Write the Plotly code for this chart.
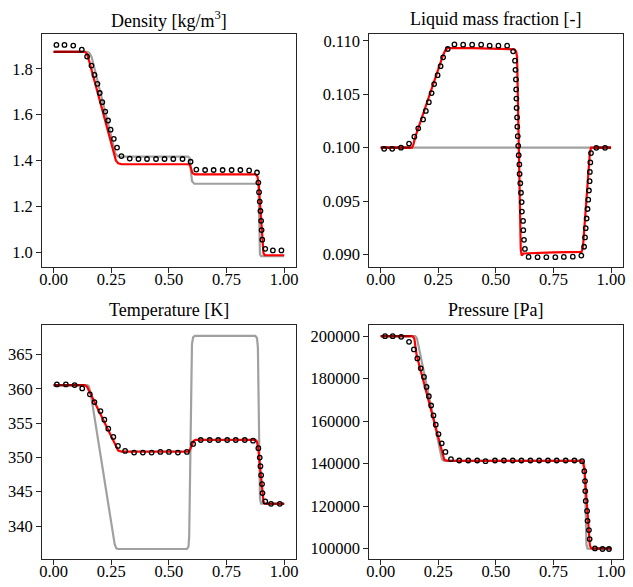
import plotly.graph_objects as go

# ---------------- data ----------------
titles = ["Density [kg/m<sup>3</sup>]", "Liquid mass fraction [-]", "Temperature [K]", "Pressure [Pa]"]
x_ticks = [0.0, 0.25, 0.5, 0.75, 1.0]

# Density
gray_rho_x = [0.0, 0.145, 0.155, 0.165, 0.268, 0.278, 0.29, 0.583, 0.59, 0.6, 0.61, 0.884, 0.889, 0.895, 0.9, 1.0]
gray_rho_y = [1.874, 1.874, 1.868, 1.85, 1.43, 1.418, 1.416, 1.416, 1.41, 1.31, 1.298, 1.298, 1.29, 0.99, 0.982, 0.982]
red_rho_x = [0.0, 0.135, 0.145, 0.155, 0.27, 0.28, 0.295, 0.586, 0.592, 0.602, 0.612, 0.876, 0.884, 0.89, 0.91, 0.916, 1.0]
red_rho_y = [1.874, 1.874, 1.865, 1.83, 1.40, 1.387, 1.383, 1.383, 1.378, 1.345, 1.339, 1.339, 1.33, 1.29, 0.995, 0.986, 0.986]
dot_rho_x = [0.012, 0.047, 0.085, 0.122, 0.145, 0.164, 0.177, 0.190, 0.200, 0.211, 0.224, 0.236, 0.247, 0.261,
             0.275, 0.294, 0.330, 0.368, 0.405, 0.444, 0.481, 0.519, 0.559, 0.594, 0.619, 0.657, 0.694, 0.733,
             0.772, 0.810, 0.848, 0.882, 0.888, 0.891, 0.894, 0.897, 0.900, 0.902, 0.905, 0.918, 0.951, 0.988]
dot_rho_y = [1.904, 1.904, 1.901, 1.883, 1.853, 1.814, 1.773, 1.734, 1.694, 1.654, 1.613, 1.574, 1.534, 1.494,
             1.456, 1.419, 1.408, 1.406, 1.406, 1.406, 1.406, 1.406, 1.406, 1.394, 1.360, 1.358, 1.358, 1.358,
             1.358, 1.358, 1.356, 1.347, 1.303, 1.261, 1.220, 1.179, 1.136, 1.096, 1.054, 1.014, 1.007, 1.007]
dark_rho_x = [0.0, 0.13]
dark_rho_y = [1.874, 1.874]

# Liquid mass fraction
gray_Y_x = [0.0, 1.0]
gray_Y_y = [0.1, 0.1]
red_Y_x = [0.0, 0.136, 0.142, 0.15, 0.27, 0.28, 0.29, 0.40, 0.58, 0.588, 0.592, 0.608, 0.612, 0.62, 0.75,
           0.872, 0.878, 0.908, 0.913, 1.0]
red_Y_y = [0.1, 0.1, 0.1003, 0.1010, 0.1086, 0.1091, 0.10932, 0.10932, 0.1092, 0.1090, 0.1085, 0.0905,
           0.0899, 0.0901, 0.0902, 0.09025, 0.0907, 0.0995, 0.1, 0.1]
dot_Y_x = [0.015, 0.050, 0.088, 0.123, 0.146, 0.163, 0.184, 0.196, 0.209, 0.221, 0.232, 0.247, 0.260, 0.271,
           0.291, 0.320, 0.358, 0.397, 0.436, 0.473, 0.511, 0.549, 0.575, 0.583, 0.585, 0.587, 0.588, 0.589,
           0.590, 0.592, 0.593, 0.595, 0.597, 0.599, 0.602, 0.603, 0.606, 0.609, 0.612, 0.613, 0.618, 0.619,
           0.622, 0.626, 0.642, 0.681, 0.719, 0.758, 0.795, 0.834, 0.871, 0.883, 0.887, 0.890, 0.894, 0.898,
           0.901, 0.904, 0.907, 0.908, 0.910, 0.913, 0.936, 0.974]
dot_Y_y = [0.09989, 0.09989, 0.1000, 0.10038, 0.10103, 0.10181, 0.10264, 0.10344, 0.10425, 0.10511, 0.10595,
           0.10678, 0.10762, 0.10845, 0.10923, 0.10966, 0.10963, 0.10963, 0.10963, 0.10954, 0.10954, 0.10954,
           0.10901, 0.10814, 0.10728, 0.10638, 0.10545, 0.10459, 0.10372, 0.10283, 0.10196, 0.10107, 0.10017,
           0.09930, 0.09843, 0.09754, 0.09667, 0.09578, 0.09491, 0.09402, 0.09314, 0.09228, 0.09138, 0.09052,
           0.08978, 0.08975, 0.08975, 0.08975, 0.08978, 0.0898, 0.0899, 0.09073, 0.09160, 0.09247, 0.09337,
           0.09426, 0.09513, 0.09599, 0.09686, 0.09773, 0.09862, 0.09949, 0.09998, 0.09998]
dark_Y_x = [0.0, 0.13, None, 0.93, 1.0]
dark_Y_y = [0.1, 0.1, None, 0.1, 0.1]

# Temperature
gray_T_x = [0.0, 0.145, 0.152, 0.16, 0.265, 0.272, 0.28, 0.578, 0.585, 0.588, 0.6, 0.605, 0.612, 0.875, 0.882,
            0.886, 0.895, 0.9, 1.0]
gray_T_y = [360.55, 360.55, 360.4, 359.5, 337.3, 336.75, 336.65, 336.65, 337.0, 338.5, 366.5, 367.5, 367.7,
            367.7, 367.4, 366.0, 344.0, 343.25, 343.25]
red_T_x = [0.0, 0.135, 0.145, 0.155, 0.27, 0.28, 0.295, 0.585, 0.59, 0.598, 0.607, 0.615, 0.875, 0.882, 0.888,
           0.91, 0.916, 1.0]
red_T_y = [360.55, 360.55, 360.3, 359.6, 351.5, 351.0, 350.85, 350.85, 351.0, 351.8, 352.4, 352.55, 352.55,
           352.3, 351.2, 343.6, 343.25, 343.25]
dot_T_x = [0.014, 0.053, 0.091, 0.124, 0.157, 0.177, 0.203, 0.220, 0.237, 0.259, 0.279, 0.310, 0.349, 0.387,
           0.425, 0.463, 0.500, 0.539, 0.578, 0.605, 0.638, 0.677, 0.714, 0.753, 0.790, 0.829, 0.865, 0.888,
           0.894, 0.897, 0.900, 0.904, 0.906, 0.918, 0.943, 0.981]
dot_T_y = [360.64, 360.64, 360.54, 360.06, 359.19, 358.07, 356.76, 355.50, 354.19, 352.98, 351.67, 350.94,
           350.70, 350.70, 350.70, 350.80, 350.80, 350.70, 350.80, 351.96, 352.54, 352.54, 352.54, 352.54,
           352.54, 352.54, 352.44, 351.34, 349.97, 348.72, 347.41, 346.11, 344.80, 343.58, 343.24, 343.24]
dark_T_x = [0.0, 0.13, None, 0.92, 1.0]
dark_T_y = [360.55, 360.55, None, 343.25, 343.25]

# Pressure
gray_P_x = [0.0, 0.15, 0.157, 0.165, 0.258, 0.266, 0.276, 0.876, 0.882, 0.886, 0.893, 0.898, 1.0]
gray_P_y = [200000, 200000, 199000, 195000, 146000, 142000, 141300, 141300, 140500, 137000, 102000, 99900, 99900]
red_P_x = [0.0, 0.138, 0.146, 0.156, 0.268, 0.276, 0.29, 0.872, 0.878, 0.884, 0.908, 0.914, 1.0]
red_P_y = [200000, 200000, 198800, 191000, 145000, 141800, 141300, 141300, 140500, 137500, 101500, 100000, 100000]
dot_P_x = [0.019, 0.052, 0.089, 0.123, 0.144, 0.159, 0.174, 0.188, 0.199, 0.209, 0.219, 0.229, 0.239, 0.251,
           0.265, 0.281, 0.305, 0.341, 0.380, 0.419, 0.455, 0.496, 0.535, 0.573, 0.611, 0.650, 0.688, 0.726,
           0.764, 0.803, 0.841, 0.874, 0.884, 0.887, 0.888, 0.890, 0.896, 0.898, 0.904, 0.907, 0.930, 0.963, 0.991]
dot_P_y = [200000, 200000, 199670, 197330, 193740, 189510, 184830, 180790, 176110, 171710, 167350, 162670,
           158310, 153910, 149550, 145480, 142060, 141450, 141450, 141450, 141120, 141450, 141450, 141450,
           141450, 141450, 141450, 141450, 141450, 141450, 141450, 141120, 136440, 131760, 127070, 122390,
           117700, 113020, 108660, 104440, 100040, 99770, 99770]
dark_P_x = [0.0, 0.13, None, 0.92, 1.0]
dark_P_y = [200000, 200000, None, 100000, 100000]

y_ticks = [
    [1.0, 1.2, 1.4, 1.6, 1.8],
    [0.090, 0.095, 0.100, 0.105, 0.110],
    [340, 345, 350, 355, 360, 365],
    [100000, 120000, 140000, 160000, 180000, 200000],
]
y_fmt = [".1f", ".3f", "d", "d"]
y_ranges = [[0.934, 1.951], [0.08882, 0.11062], [335.13, 369.35], [94850, 205420]]

panels = [
    (gray_rho_x, gray_rho_y, red_rho_x, red_rho_y, dot_rho_x, dot_rho_y, dark_rho_x, dark_rho_y),
    (gray_Y_x, gray_Y_y, red_Y_x, red_Y_y, dot_Y_x, dot_Y_y, dark_Y_x, dark_Y_y),
    (gray_T_x, gray_T_y, red_T_x, red_T_y, dot_T_x, dot_T_y, dark_T_x, dark_T_y),
    (gray_P_x, gray_P_y, red_P_x, red_P_y, dot_P_x, dot_P_y, dark_P_x, dark_P_y),
]

# ---------------- layout geometry ----------------
W, H = 633, 587
x_doms = [[39.5 / W, 295.5 / W], [369.7 / W, 625.5 / W]]
y_doms = [[1 - 265.5 / H, 1 - 31.3 / H], [1 - 559.3 / H, 1 - 323.3 / H]]

FONT = "Liberation Serif"
FS = 16.5
FS_T = 18

fig = go.Figure()
layout = dict(
    width=W, height=H, margin=dict(l=0, r=0, t=0, b=0),
    paper_bgcolor="white", plot_bgcolor="white", showlegend=False,
    font=dict(family=FONT, size=FS, color="black"),
    annotations=[],
)

for i, (gx, gy, rx, ry, dx, dy, kx, ky) in enumerate(panels):
    row, col = divmod(i, 2)
    n = "" if i == 0 else str(i + 1)
    xa, ya = "x" + n, "y" + n
    fig.add_trace(go.Scatter(x=gx, y=gy, mode="lines", line=dict(color="#a0a0a0", width=2.2),
                             xaxis=xa, yaxis=ya, hoverinfo="skip"))
    fig.add_trace(go.Scatter(x=rx, y=ry, mode="lines", line=dict(color="#ff0000", width=2.2),
                             xaxis=xa, yaxis=ya, hoverinfo="skip"))
    fig.add_trace(go.Scatter(x=kx, y=ky, mode="lines", line=dict(color="#9a0000", width=2.2),
                             xaxis=xa, yaxis=ya, hoverinfo="skip", connectgaps=False))
    fig.add_trace(go.Scatter(x=dx, y=dy, mode="markers",
                             marker=dict(symbol="circle-open", size=4.5, color="black", line=dict(width=1.3)),
                             xaxis=xa, yaxis=ya, hoverinfo="skip"))
    common = dict(showline=True, mirror=True, linecolor="#262626", linewidth=1,
                  ticks="outside", ticklen=5, tickwidth=0.8, tickcolor="#262626",
                  showgrid=False, zeroline=False, tickfont=dict(family=FONT, size=FS, color="black"))
    layout["xaxis" + n] = dict(domain=x_doms[col], anchor=ya, range=[-0.05, 1.05],
                               tickvals=x_ticks, tickformat=".2f", ticklabelstandoff=-8, **common)
    layout["yaxis" + n] = dict(domain=y_doms[row], anchor=xa, range=y_ranges[i],
                               tickvals=y_ticks[i], tickformat=y_fmt[i], **common)
    top_px = 31.3 if row == 0 else 323.3
    layout["annotations"].append(dict(
        text=titles[i], x=(x_doms[col][0] + x_doms[col][1]) / 2, y=1 - (top_px - 15) / H,
        xref="paper", yref="paper", xanchor="center", yanchor="middle", showarrow=False,
        font=dict(family=FONT, size=FS_T, color="black")))

fig.update_layout(**layout)
fig.write_html("out.html")
